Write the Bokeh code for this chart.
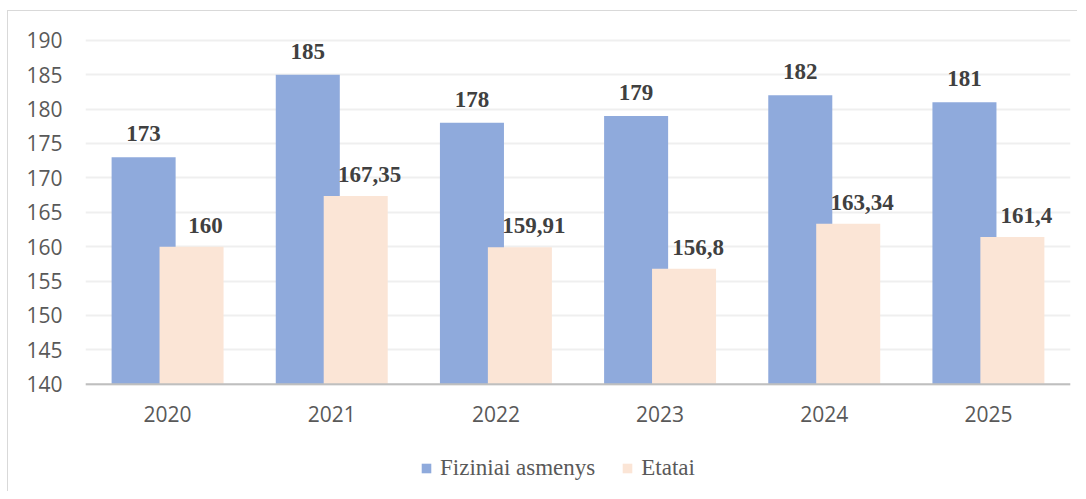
from bokeh.plotting import figure
from bokeh.models import ColumnDataSource, LabelSet, Legend, LegendItem, FactorRange, Range1d, Span
from bokeh.core.properties import value
from bokeh.transform import dodge
from bokeh.embed import file_html
from bokeh.resources import INLINE

years = ["2020", "2021", "2022", "2023", "2024", "2025"]
fiziniai = [173, 185, 178, 179, 182, 181]
etatai = [160, 167.35, 159.91, 156.8, 163.34, 161.4]
fiziniai_labels = ["173", "185", "178", "179", "182", "181"]
etatai_labels = ["160", "167,35", "159,91", "156,8", "163,34", "161,4"]
y_ticks = [140, 145, 150, 155, 160, 165, 170, 175, 180, 185, 190]
y_base = 140

src = ColumnDataSource(dict(year=years, fiz=fiziniai, eta=etatai,
                            fiz_lab=fiziniai_labels, eta_lab=etatai_labels))

p = figure(width=1070, height=481, output_backend="svg", toolbar_location=None,
           x_range=FactorRange(factors=years, range_padding=0),
           y_range=Range1d(124.27, 192))
p.min_border_left = 77
p.min_border_right = 8
p.min_border_top = 15
p.min_border_bottom = 0
p.outline_line_color = None
p.background_fill_color = "white"
p.border_fill_color = "white"
p.styles = {"border-left": "1px solid #d9d9d9", "border-top": "1px solid #d9d9d9",
            "margin-left": "7px", "margin-top": "10px"}

off = 0.146
bw = 0.39
r1 = p.vbar(x=dodge("year", -off, range=p.x_range), top="fiz", bottom=y_base, width=bw,
            source=src, fill_color="#8FAADC", line_color=None)
r2 = p.vbar(x=dodge("year", off, range=p.x_range), top="eta", bottom=y_base, width=bw,
            source=src, fill_color="#FBE5D6", line_color=None)

# category axis line and labels (drawn at the 140 baseline)
p.add_layout(Span(location=y_base, dimension="width", line_color="#BFBFBF", line_width=2))
xl = LabelSet(x="year", y=y_base, text="year", source=src, y_offset=-22,
              text_align="center", text_baseline="top", text_font=value("Open Sans"),
              text_font_size="21px", text_color="#595959")
p.add_layout(xl)

lab_font = "Liberation Serif"
l1 = LabelSet(x=dodge("year", -off, range=p.x_range), y="fiz", text="fiz_lab", source=src,
              y_offset=16, text_align="center", text_baseline="alphabetic",
              text_font=value(lab_font), text_font_size="23px", text_font_style="bold",
              text_color="#404040")
l2 = LabelSet(x=dodge("year", off, range=p.x_range), y="eta", text="eta_lab", source=src,
              x_offset=14, y_offset=14, text_align="center", text_baseline="alphabetic",
              text_font=value(lab_font), text_font_size="23px", text_font_style="bold",
              text_color="#404040")
p.add_layout(l1)
p.add_layout(l2)

# axes
p.xaxis.visible = False
p.yaxis.ticker = y_ticks
p.yaxis.axis_line_color = None
p.yaxis.major_tick_line_color = None
p.yaxis.minor_tick_line_color = None
p.yaxis.major_label_text_font = "Open Sans"
p.yaxis.major_label_text_font_size = "21px"
p.yaxis.major_label_text_color = "#595959"
p.yaxis.major_label_standoff = 17

p.xgrid.grid_line_color = None
p.ygrid.grid_line_color = "#EFEFEF"
p.ygrid.grid_line_width = 2

legend = Legend(items=[LegendItem(label="Fiziniai asmenys", renderers=[r1]),
                       LegendItem(label="Etatai", renderers=[r2])],
                orientation="horizontal", location=(335, 11),
                label_text_font="Times New Roman", label_text_font_size="23px",
                label_text_color="#595959", glyph_width=12, glyph_height=12,
                label_standoff=8, spacing=26, border_line_color=None,
                background_fill_alpha=0, padding=0, margin=0)
p.add_layout(legend, "center")

open("out.html", "w").write(file_html(p, INLINE))
